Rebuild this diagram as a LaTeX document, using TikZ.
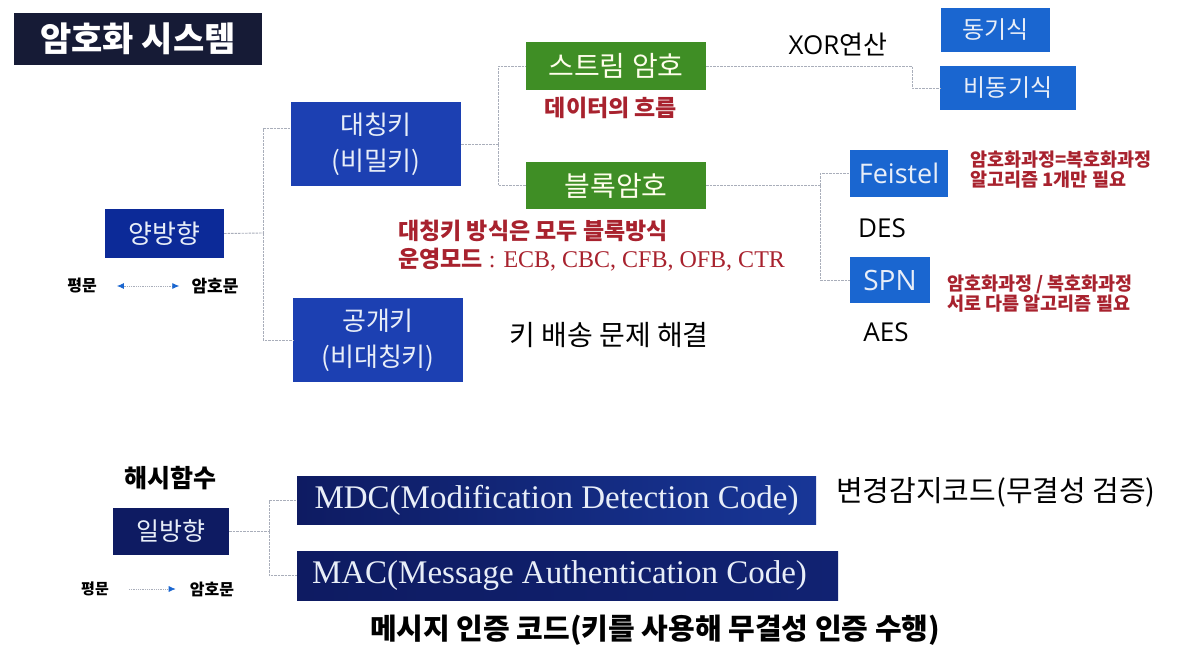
\documentclass[tikz,border=0pt]{standalone}
\usepackage{fontspec}
\setmainfont{Noto Sans CJK KR}
\newfontfamily\latsans{Open Sans}
\newfontfamily\latserif{Liberation Serif}
\usetikzlibrary{arrows.meta}
\definecolor{navy}{HTML}{161B36}
\definecolor{deepblue}{HTML}{0C2A98}
\definecolor{royal}{HTML}{1C40B2}
\definecolor{brightblue}{HTML}{1A66D0}
\definecolor{grass}{HTML}{3F8E25}
\definecolor{inkblue}{HTML}{0E1B62}
\definecolor{notered}{HTML}{A8222E}
\definecolor{linegray}{HTML}{A9AEBA}
\definecolor{boxtext}{HTML}{E8EEF8}
\tikzset{
  box/.style={rectangle, inner sep=0pt, align=center, text=boxtext},
  conn/.style={draw=linegray, line width=0.9pt, dash pattern=on 2.5pt off 1pt},
  note/.style={text=notered, font=\bfseries\fontsize{18.5}{22}\selectfont, align=left, anchor=west, inner sep=0pt},
  plain/.style={inner sep=0pt},
}
\begin{document}
\begin{tikzpicture}[x=1pt,y=-1pt]
\useasboundingbox (0,0) rectangle (1187,669);
\fill[white] (0,0) rectangle (1187,669);

% title
\node[box, fill=navy, minimum width=248pt, minimum height=52pt, text=white,
      font=\bfseries\fontsize{34}{34}\selectfont] (title) at (138,39) {암호화 시스템};

% two-way encryption
\node[box, fill=deepblue, minimum width=119pt, minimum height=49pt,
      font=\fontsize{26}{26}\selectfont] (twoway) at (164.5,233.5) {양방향};
\node[plain, font=\bfseries\fontsize{16}{16}\selectfont] (plainA) at (82,286) {평문};
\node[plain, font=\bfseries\fontsize{17}{17}\selectfont] (cipherA) at (215,286) {암호문};
\draw[draw=linegray, line width=0.8pt, densely dotted,
      {Latex[length=7pt,width=6pt,color=brightblue]}-{Latex[length=7pt,width=6pt,color=brightblue]},
      shorten <=20pt, shorten >=12pt] (plainA.east) -- (cipherA.west);

\node[box, fill=royal, minimum width=170pt, minimum height=84pt,
      font=\fontsize{26}{36}\selectfont] (symm) at (376,144) {대칭키\\(비밀키)};
\node[box, fill=royal, minimum width=170pt, minimum height=84pt,
      font=\fontsize{26}{36}\selectfont] (pubk) at (378,340) {공개키\\(비대칭키)};
\node[plain, font=\fontsize{28}{28}\selectfont] (keyd) at (609,335) {키 배송 문제 해결};

\coordinate (j1) at (263,233);
\draw[conn] (twoway.east) -- (j1);
\draw[conn] (j1) |- ([yshift=16pt]symm.west);
\draw[conn] (j1) |- (pubk.west);

% symmetric-key branches
\node[box, fill=grass, minimum width=180pt, minimum height=48pt, text={yellow!8},
      font=\fontsize{28}{28}\selectfont] (stream) at (616,66) {스트림 암호};
\node[plain, text=notered, font=\bfseries\fontsize{23}{23}\selectfont] (flow) at (611,108) {데이터의 흐름};
\node[box, fill=grass, minimum width=180pt, minimum height=47pt, text={yellow!8},
      font=\fontsize{28}{28}\selectfont] (block) at (616,185.5) {블록암호};
\node[note, font=\bfseries\fontsize{23}{23}\selectfont] (modeA) at (398,231) {대칭키 방식은 모두 블록방식};
\node[note, font=\bfseries\fontsize{23}{23}\selectfont] (modeB) at (398,260)
     {운영모드{\mdseries\latserif\fontsize{24}{24}\selectfont{} : ECB, CBC, CFB, OFB, CTR}};

\coordinate (j2) at (498,144);
\draw[conn] (symm.east) -- (j2);
\draw[conn] (j2) |- (stream.west);
\draw[conn] (j2) |- (block.west);

% stream cipher
\node[plain, font=\fontsize{26}{26}\selectfont] (xor) at (838,45) {{\latsans XOR}연산};
\node[box, fill=brightblue, minimum width=109pt, minimum height=44pt,
      font=\fontsize{24}{24}\selectfont] (sync) at (995.5,30) {동기식};
\node[box, fill=brightblue, minimum width=136pt, minimum height=44pt,
      font=\fontsize{24}{24}\selectfont] (async) at (1008,88) {비동기식};
\coordinate (j3) at (912,66);
\draw[conn] (stream.east) -- (j3) |- (async.west);

% block cipher
\node[box, fill=brightblue, minimum width=98pt, minimum height=47pt,
      font=\latsans\fontsize{27}{27}\selectfont] (feistel) at (899,173.5) {Feistel};
\node[box, fill=brightblue, minimum width=80pt, minimum height=46pt,
      font=\latsans\fontsize{28}{28}\selectfont] (spn) at (890,280) {SPN};
\node[plain, font=\latsans\fontsize{26}{26}\selectfont] (des) at (882,228) {DES};
\node[plain, font=\latsans\fontsize{26}{26}\selectfont] (aes) at (886,332) {AES};
\node[note] (featA) at (970,170) {암호화과정=복호화과정\\[-2pt]알고리즘 1개만 필요};
\node[note] (featB) at (947,294) {암호화과정 / 복호화과정\\[-2pt]서로 다름 알고리즘 필요};
\coordinate (j4) at (820,185.5);
\draw[conn] (block.east) -- (j4);
\draw[conn] (j4) |- (feistel.west);
\draw[conn] (j4) |- (spn.west);

% hash functions
\node[plain, font=\bfseries\fontsize{25}{25}\selectfont] (hash) at (170,478) {해시함수};
\node[box, fill=inkblue, minimum width=116pt, minimum height=47pt,
      font=\fontsize{25}{25}\selectfont] (oneway) at (171,531.5) {일방향};
\node[plain, font=\bfseries\fontsize{15}{15}\selectfont] (plainB) at (95,589) {평문};
\node[plain, font=\bfseries\fontsize{16}{16}\selectfont] (cipherB) at (212,589) {암호문};
\draw[draw=linegray, line width=0.8pt, densely dotted,
      -{Latex[length=7pt,width=6pt,color=brightblue]},
      shorten <=20pt, shorten >=14pt] (plainB.east) -- (cipherB.west);

\node[box, left color=inkblue, right color=royal!85!black, minimum width=519pt, minimum height=48pt,
      font=\latserif\fontsize{33}{33}\selectfont] (mdc) at (556.5,500) {MDC(Modification Detection Code)};
\node[box, left color=inkblue, right color=inkblue!80!royal, minimum width=541pt, minimum height=49pt,
      font=\latserif\fontsize{33}{33}\selectfont] (mac) at (567.5,575.5) {MAC(Message Authentication Code)\hspace*{16pt}};
\node[plain, font=\fontsize{29}{29}\selectfont] (mdcnote) at (996,492) {변경감지코드(무결성 검증)};
\node[plain, font=\bfseries\fontsize{29}{29}\selectfont] (macnote) at (655,630) {메시지 인증 코드(키를 사용해 무결성 인증 수행)};

\coordinate (j5) at (269,531.5);
\draw[conn] (oneway.east) -- (j5);
\draw[conn] (j5) |- (mdc.west);
\draw[conn] (j5) |- (mac.west);
\end{tikzpicture}
\end{document}
